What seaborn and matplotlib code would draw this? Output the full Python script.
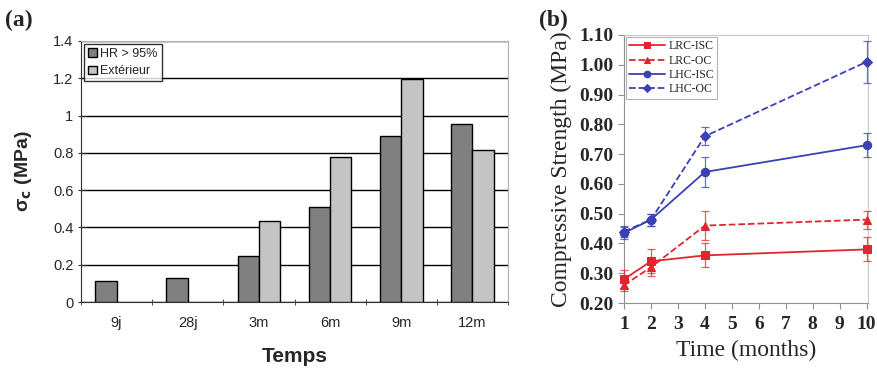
import matplotlib
matplotlib.use("Agg")
import matplotlib.pyplot as plt
import seaborn as sns
import pandas as pd
import numpy as np

# (a) bar chart data
temps = ['9j', '28j', '3m', '6m', '9m', '12m']
hr95 = [0.115, 0.13, 0.245, 0.51, 0.89, 0.955]
exterieur = [np.nan, np.nan, 0.435, 0.78, 1.195, 0.815]
bar_series = ['HR > 95%', 'Extérieur']

# (b) compressive strength data
months = [1, 2, 4, 10]
lrc_isc = [0.28, 0.34, 0.36, 0.38]
lrc_isc_err = [0.03, 0.04, 0.04, 0.04]
lrc_oc = [0.26, 0.32, 0.46, 0.48]
lrc_oc_err = [0.02, 0.03, 0.05, 0.03]
lhc_isc = [0.435, 0.48, 0.64, 0.73]
lhc_isc_err = [0.02, 0.02, 0.05, 0.04]
lhc_oc = [0.44, 0.48, 0.76, 1.01]
lhc_oc_err = [0.02, 0.02, 0.03, 0.07]

sns.set_style("white")

fig = plt.figure(figsize=(8.78, 3.68), dpi=100)
ax1 = fig.add_axes([0.0923, 0.1793, 0.4863, 0.7093])
ax2 = fig.add_axes([0.7107, 0.1766, 0.2779, 0.7283])

# ---- panel (a)
df = pd.DataFrame({
    'Temps': temps * 2,
    'val': hr95 + exterieur,
    'serie': [bar_series[0]] * len(temps) + [bar_series[1]] * len(temps),
})
sns.barplot(data=df, x='Temps', y='val', hue='serie', ax=ax1,
            palette=['#808080', '#c4c4c4'], width=0.6, edgecolor='black',
            linewidth=1.0, saturation=1, zorder=3)
ax1.set_ylim(0, 1.4)
ax1.set_xlim(-0.5, 5.5)
ax1.set_yticks(np.arange(0, 1.41, 0.2))
ax1.set_yticklabels(['0', '0.2', '0.4', '0.6', '0.8', '1', '1.2', '1.4'])
ax1.yaxis.grid(True, color='black', linewidth=1.0, zorder=0)
ax1.set_axisbelow(True)
for s in ['top', 'right']:
    ax1.spines[s].set_color('#b0b0b0')
for s in ['left', 'bottom']:
    ax1.spines[s].set_color('#303030')
ax1.set_xticks(np.arange(-0.5, 6, 1), minor=True)
ax1.tick_params(axis='x', which='major', length=0, labelsize=10.5, pad=10)
ax1.tick_params(axis='x', which='minor', length=4, direction='inout', color='#303030', bottom=True)
ax1.tick_params(axis='y', length=4, direction='inout', labelsize=10.5, color='#303030', left=True)
for lab in ax1.get_xticklabels() + ax1.get_yticklabels():
    lab.set_fontfamily('Liberation Sans')
ax1.set_xlabel('Temps', fontsize=15, fontweight='bold', family='Liberation Sans', labelpad=12)
ax1.set_ylabel(r'σ$_\mathbf{c}$ (MPa)', fontsize=14, fontweight='bold', family='Liberation Sans', labelpad=14)
leg = ax1.legend(loc='upper left', bbox_to_anchor=(0.0, 1.0), fontsize=9, frameon=True,
                 fancybox=False, edgecolor='black', handlelength=0.7, handleheight=0.7,
                 handletextpad=0.3, borderpad=0.3, labelspacing=0.45, borderaxespad=0.25)
leg.get_frame().set_linewidth(1.0)
for t in leg.get_texts():
    t.set_fontfamily('Liberation Sans')

# ---- panel (b)
red = '#e02530'
blue = '#3a40b5'
series = [
    ('LRC-ISC', lrc_isc, lrc_isc_err, red, '-', 's'),
    ('LRC-OC', lrc_oc, lrc_oc_err, red, '--', '^'),
    ('LHC-ISC', lhc_isc, lhc_isc_err, blue, '-', 'o'),
    ('LHC-OC', lhc_oc, lhc_oc_err, blue, '--', 'D'),
]
for name, vals, errs, col, ls, mk in series:
    sns.lineplot(x=months, y=vals, ax=ax2, color=col, linestyle=ls, marker=mk,
                 markersize=6 if mk != 'D' else 5, markeredgecolor=col, linewidth=1.3,
                 label=name, clip_on=False, zorder=4)
    ax2.errorbar(months, vals, yerr=errs, fmt='none', ecolor=col, elinewidth=0.9,
                 capsize=3, capthick=0.9, alpha=0.75, clip_on=False, zorder=3)
ax2.set_xlim(1, 10.05)
ax2.set_ylim(0.2, 1.1)
ax2.set_xticks(range(1, 11))
ax2.set_yticks(np.arange(0.2, 1.101, 0.1))
ax2.set_yticklabels([f'{v:.2f}' for v in np.arange(0.2, 1.101, 0.1)])
for s in ['top', 'right']:
    ax2.spines[s].set_color('#c8c8c8')
for s in ['left', 'bottom']:
    ax2.spines[s].set_color('#909090')
ax2.tick_params(axis='both', length=4, direction='out', color='#909090', labelsize=14,
                bottom=True, left=True)
ax2.tick_params(axis='x', pad=5)
for lab in ax2.get_xticklabels() + ax2.get_yticklabels():
    lab.set_fontfamily('Liberation Serif')
    lab.set_fontweight('bold')
ax2.set_xlabel('Time (months)', fontsize=17, family='Liberation Serif', labelpad=5)
ax2.set_ylabel('Compressive Strength (MPa)', fontsize=17, family='Liberation Serif', labelpad=5)
leg2 = ax2.legend(loc='upper left', frameon=True, fancybox=False,
                  edgecolor='#a0a0a0', handlelength=3.0, handletextpad=0.3,
                  borderpad=0.3, labelspacing=0.2, borderaxespad=0.15,
                  markerscale=0.8, prop={'family': 'Liberation Serif', 'size': 8.5})
leg2.get_frame().set_linewidth(0.8)

fig.text(0.006, 0.93, '(a)', fontsize=17, fontweight='bold', family='Liberation Serif')
fig.text(0.614, 0.93, '(b)', fontsize=17, fontweight='bold', family='Liberation Serif')

fig.savefig('out.png', dpi=100)
